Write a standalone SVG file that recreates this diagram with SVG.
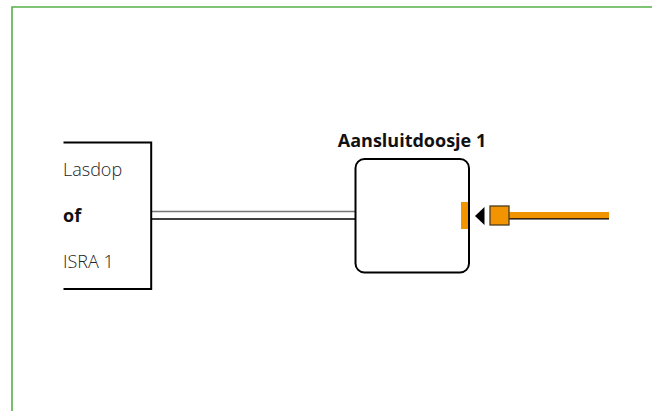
<svg xmlns="http://www.w3.org/2000/svg" width="652" height="411" viewBox="0 0 652 411">
<style>
text{font-family:"Open Sans","Noto Sans","Liberation Sans",sans-serif;fill:#222;font-size:18px;font-weight:300}
.b{font-weight:700;fill:#111}
.k{fill:none;stroke:#000;stroke-width:2}
</style>
<rect width="652" height="411" fill="#fff"/>
<path d="M652 7H12V411" fill="none" stroke="#55b047" stroke-width="1.600"/>
<g id="connectors">
<path d="M151 211.500H356" fill="none" stroke="#777" stroke-width="1.500"/>
<path d="M151 219H356" fill="none" stroke="#000" stroke-width="1.300"/>
</g>
<g id="lasdop">
<path class="k" d="M63.500 142.500H151.200V289H63.500"/>
<text x="63" y="176">Lasdop</text>
<text x="63" y="222" class="b">of</text>
<text x="63" y="268">ISRA 1</text>
</g>
<g id="aansluitdoosje">
<rect x="355.500" y="159" width="113.500" height="113.500" rx="9" fill="#fff" stroke="#000" stroke-width="2"/>
<rect x="461" y="202" width="7" height="27" fill="#f29400"/>
<text x="412" y="147" text-anchor="middle" class="b">Aansluitdoosje 1</text>
</g>
<g id="plug">
<path d="M475 216L484.500 207V225Z" fill="#000"/>
<rect x="509" y="212" width="100" height="7" fill="#f29400"/>
<path d="M509 218.800H609" stroke="#000" stroke-width="1.200"/>
<rect x="490" y="206" width="19" height="19" fill="#f29400" stroke="#4a3c20" stroke-width="1.300"/>
</g>
</svg>
